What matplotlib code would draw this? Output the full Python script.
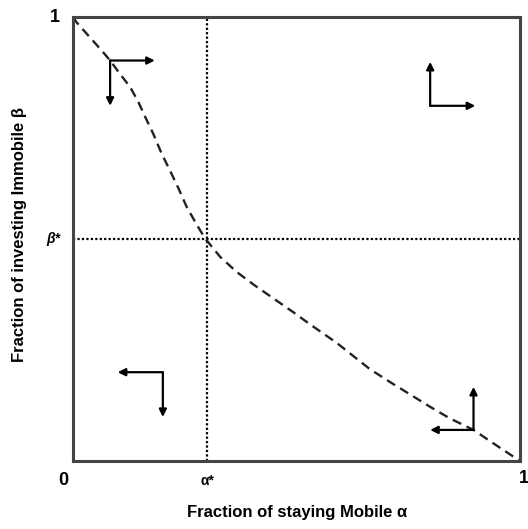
import matplotlib.pyplot as plt
import numpy as np

# equilibrium point
alpha_star = 0.30
beta_star = 0.50

# dashed boundary curve
curve_x = [0.0, 0.008, 0.038, 0.068, 0.083, 0.105, 0.128, 0.146, 0.161, 0.180, 0.198,
           0.217, 0.236, 0.254, 0.277, 0.295, 0.329, 0.366, 0.403, 0.433, 0.463, 0.493,
           0.530, 0.560, 0.590, 0.664, 0.709, 0.754, 0.799, 0.843, 0.896, 0.940,
           0.985, 1.0]
curve_y = [1.0, 0.988, 0.954, 0.920, 0.902, 0.872, 0.842, 0.809, 0.776, 0.736, 0.693,
           0.654, 0.614, 0.573, 0.532, 0.502, 0.460, 0.426, 0.398, 0.377, 0.356, 0.335,
           0.308, 0.287, 0.266, 0.207, 0.178, 0.150, 0.122, 0.096, 0.070, 0.040,
           0.010, 0.0]

# direction arrows: corner, horizontal end, vertical end
arrow_corner = [(0.083, 0.902), (0.799, 0.800), (0.201, 0.200), (0.896, 0.070)]
arrow_h_end = [0.183, 0.900, 0.100, 0.799]
arrow_v_end = [0.800, 0.899, 0.099, 0.167]

plt.rcParams['font.family'] = ['Liberation Sans', 'DejaVu Sans']

fig = plt.figure(figsize=(5.28, 5.29), dpi=100)
ax = fig.add_axes([73/528, 1 - 461/529, 447/528, 444/529])
ax.set_xlim(0, 1)
ax.set_ylim(0, 1)

for s in ax.spines.values():
    s.set_linewidth(2.2)
    s.set_color('#444444')

ax.axvline(alpha_star, color='black', linestyle=(0, (1, 1)), linewidth=1.6)
ax.axhline(beta_star, color='black', linestyle=(0, (1, 1)), linewidth=1.6)

ax.plot(curve_x, curve_y, color='#222222', linestyle=(0, (4, 2.5)), linewidth=1.7)

for (cx, cy), hx, vy in zip(arrow_corner, arrow_h_end, arrow_v_end):
    ax.annotate('', xy=(hx, cy), xytext=(cx, cy),
                arrowprops=dict(arrowstyle='-|>', color='black', lw=1.6,
                                mutation_scale=11, shrinkA=0, shrinkB=0))
    ax.annotate('', xy=(cx, vy), xytext=(cx, cy),
                arrowprops=dict(arrowstyle='-|>', color='black', lw=1.6,
                                mutation_scale=11, shrinkA=0, shrinkB=0))

ax.set_xticks([])
ax.set_yticks([])

tk = dict(fontsize=13, fontweight='bold')
ax.text(-0.04, 1.0, '1', ha='center', va='center', transform=ax.transAxes, **tk)
ax.text(-0.045, beta_star, 'β*', ha='center', va='center', fontsize=10, fontweight='bold',
        style='italic')
ax.text(-0.022, -0.045, '0', ha='center', va='center', transform=ax.transAxes, **tk)
ax.text(alpha_star, -0.045, 'α*', ha='center', va='center', fontsize=10, fontweight='bold')
ax.text(1.008, -0.04, '1', ha='center', va='center', transform=ax.transAxes, **tk)

lab = dict(fontsize=12, fontweight='bold')
fig.text(297/528, 1 - 512/529, 'Fraction of staying Mobile α', ha='center', va='center', **lab)
fig.text(20/528, 1 - 234/529, 'Fraction of investing Immobile β', ha='center', va='center',
         rotation=90, **lab)

fig.savefig('out.png', dpi=100)
